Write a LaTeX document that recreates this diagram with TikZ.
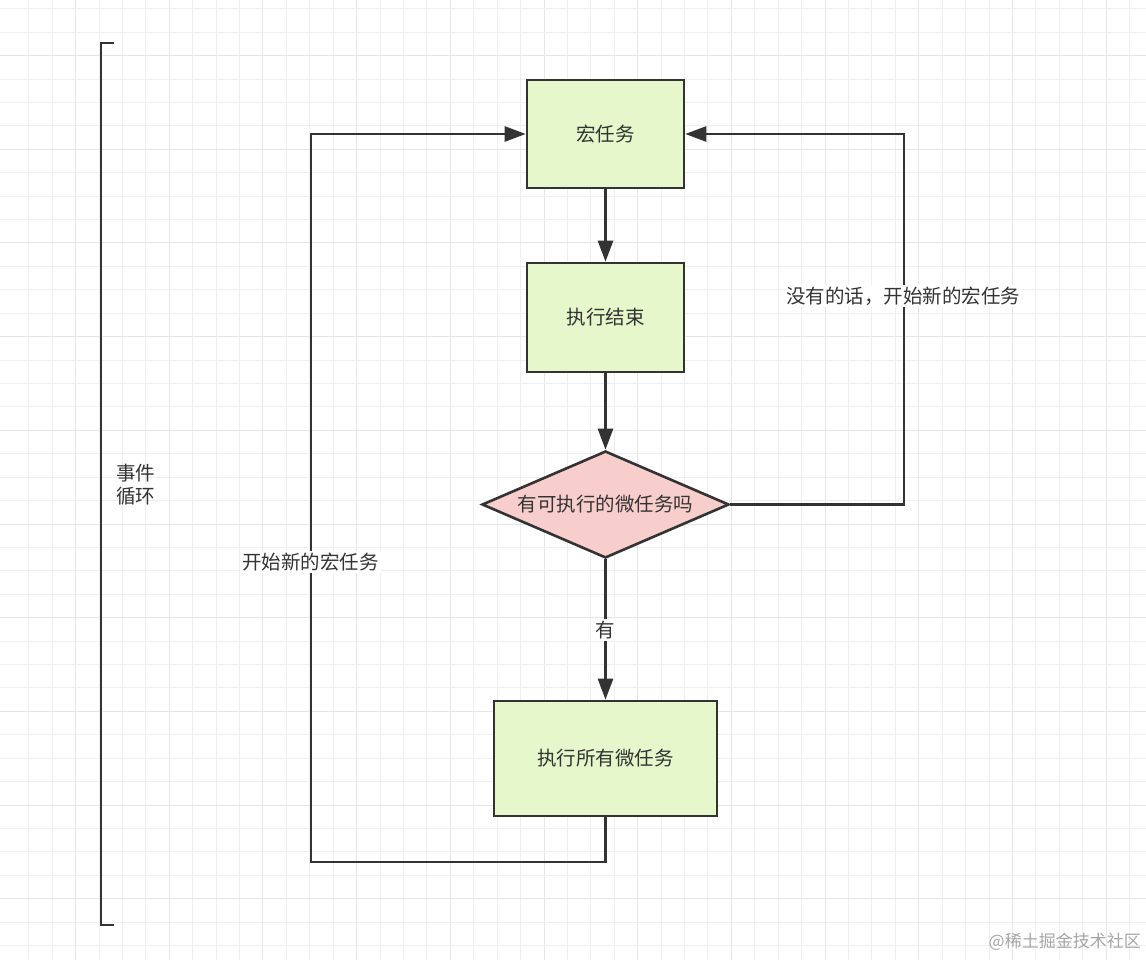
\documentclass[tikz,border=0pt]{standalone}
\usepackage{fontspec}
\setmainfont{Noto Sans CJK SC}
\usetikzlibrary{arrows.meta,shapes.geometric}
\definecolor{ink}{HTML}{333333}
\definecolor{boxgreen}{HTML}{E5F7CB}
\definecolor{boxpink}{HTML}{F8CECC}
\definecolor{gridminor}{HTML}{EFEFEF}
\definecolor{gridmajor}{HTML}{E6E6E6}
\definecolor{wm}{HTML}{A6A6A6}
\tikzset{
  procbox/.style={draw=ink, line width=2.6pt, fill=boxgreen, rectangle, inner sep=0pt,
    text=ink, font=\fontsize{19.5}{23}\selectfont},
  decide/.style={draw=ink, line width=2.6pt, fill=boxpink, diamond, inner sep=0pt,
    text=ink, font=\fontsize{19.5}{23}\selectfont},
  flow/.style={draw=ink, line width=2.6pt, -{Triangle[length=21pt,width=15pt]}},
  plain/.style={draw=ink, line width=2.6pt},
  lbl/.style={fill=white, inner sep=2pt, text=ink, font=\fontsize{19.5}{23}\selectfont},
}
\begin{document}
\begin{tikzpicture}[x=1pt,y=-1pt]
\fill[white] (0,0) rectangle (1146,960);
\useasboundingbox (0,0) rectangle (1146,960);
% grid (thin filled strips aligned to pixels)
\foreach \k in {0,...,48} {
  \pgfmathtruncatemacro{\gx}{round(28.3+23.42*\k)}
  \pgfmathtruncatemacro{\m}{mod(\k+2,4)}
  \ifnum\m=0 \fill[gridmajor] (\gx,0) rectangle (\gx+1,960);
  \else \fill[gridminor] (\gx,0) rectangle (\gx+1,960); \fi
}
\foreach \k in {-1,...,40} {
  \pgfmathtruncatemacro{\gy}{round(31.7+23.42*\k)}
  \pgfmathtruncatemacro{\m}{mod(\k+3,4)}
  \ifnum\m=0 \fill[gridmajor] (0,\gy) rectangle (1146,\gy+1);
  \else \fill[gridminor] (0,\gy) rectangle (1146,\gy+1); \fi
}
% bracket
\coordinate (bt1) at (114,43);
\coordinate (bt2) at (101,43);
\coordinate (bb2) at (101,925);
\coordinate (bb1) at (114,925);
\draw[plain, line cap=butt] (bt1) -- (bt2) -- (bb2) -- (bb1);
\node[anchor=west, align=left, text=ink, inner sep=0pt,
  font=\fontsize{19.5}{23}\selectfont] (loop) at (116,484.5) {事件\\循环};
% nodes
\node[procbox, minimum width=157pt, minimum height=108pt] (macro) at (605.5,134) {宏任务};
\node[procbox, minimum width=157pt, minimum height=109pt] (exec) at (605.5,317.5) {执行结束};
\node[decide, minimum width=247pt, minimum height=107pt] (dia) at (605.5,504.5) {\makebox[0pt]{有可执行的微任务吗}};
\node[procbox, minimum width=223pt, minimum height=115pt] (all) at (605.5,758.5) {执行所有微任务};
% connectors
\draw[flow] (macro) -- (exec);
\draw[flow] (exec) -- (dia);
\draw[flow] (dia) -- (all);
\node[lbl] (yes) at (605.5,630) {有};
\coordinate (lb) at (311,862);
\draw[flow] (all.south) |- (lb) |- (macro.west);
\node[lbl] (newmacro) at (310.5,562) {开始新的宏任务};
\coordinate (rt) at (904,134);
\draw[flow] (dia.east) -| (rt) -- (macro.east);
\node[lbl] (nomore) at (903,296) {没有的话，开始新的宏任务};
% watermark
\node[anchor=east, text=wm, inner sep=0pt, font=\fontsize{17}{20}\selectfont] (mark) at (1141,942) {@稀土掘金技术社区};
\end{tikzpicture}
\end{document}
